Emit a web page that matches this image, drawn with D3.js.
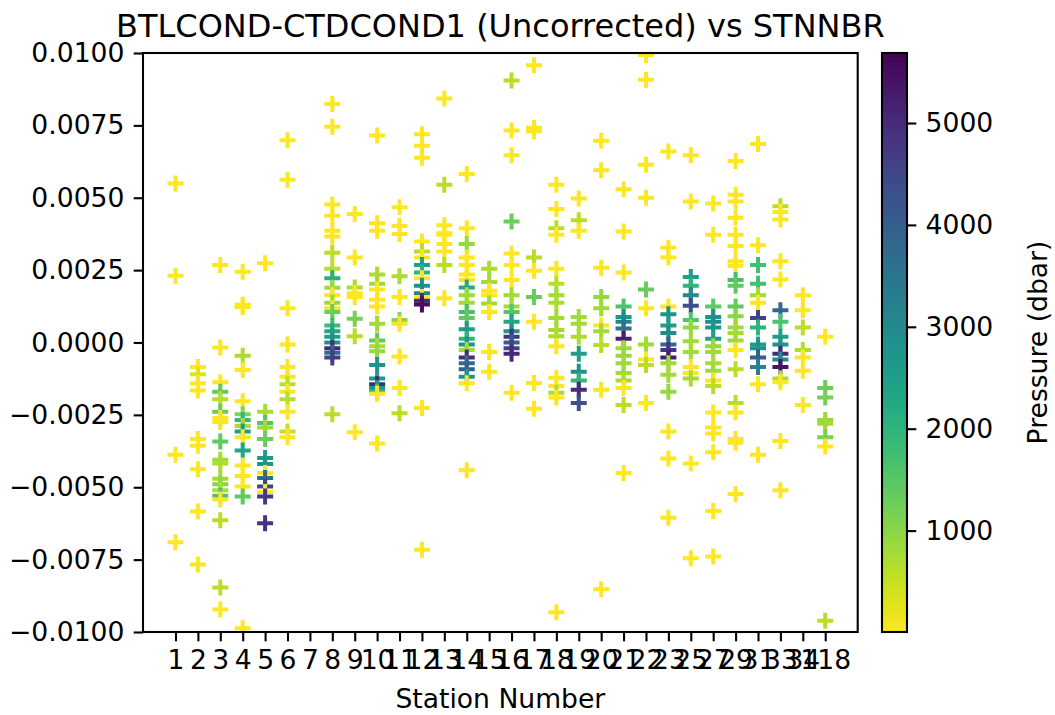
<!DOCTYPE html>
<html>
<head>
<meta charset="utf-8">
<script src="https://cdn.jsdelivr.net/npm/d3@7"></script>
<style>
  body { margin: 0; background: #fff; }
  text { font-family: "DejaVu Sans", sans-serif; fill: #000; }
</style>
</head>
<body>
<svg width="1055" height="715"></svg>
<script>
// station categories, in the order they show up on the axis
var stations = ["1","2","3","4","5","6","7","8","9","10","11","12","13","14","15","16","17","18","19","20","21","22","23","25","27","29","31","33","34","118"];

// BTLCOND - CTDCOND1, units of 1e-3, one list per station
var condDiff = [
  [5.49, 2.31, -3.88, -6.9],
  [-0.85, -1.1, -1.41, -1.66, -3.33, -3.57, -4.38, -5.84, -7.67],
  [2.68, -0.17, -1.37, -1.70, -1.96, -2.39, -2.61, -2.75, -3.42, -4.05, -4.18, -4.71, -4.90, -5.10, -5.29, -5.42, -6.14, -8.46, -9.22],
  [2.44, 1.23, 1.30, -0.46, -0.95, -2.03, -2.48, -2.68, -2.88, -3.07, -3.27, -3.73, -4.25, -4.61, -4.97, -5.32, -9.87],
  [2.74, -2.39, -2.78, -2.94, -3.33, -3.99, -4.20, -4.51, -4.68, -4.97, -5.16, -5.32, -6.24],
  [6.99, 5.62, 1.18, -0.07, -0.85, -1.18, -1.44, -1.70, -1.96, -2.39, -3.07, -3.27],
  [],
  [8.24, 7.45, 4.77, 4.38, 3.86, 3.66, 3.10, 2.55, 2.22, 1.89, 1.63, 1.37, 1.18, 1.05, 0.59, 0.39, 0.20, 0.0, -0.20, -0.35, -0.52, -2.48],
  [4.44, 2.94, 1.90, 1.70, 1.57, 0.82, 0.22, -3.10],
  [7.15, 4.12, 3.86, 2.35, 2.03, 1.83, 1.48, 1.24, 0.65, 0.07, -0.13, -0.30, -0.78, -1.24, -1.44, -1.57, -1.70, -1.77, -3.49],
  [4.67, 4.02, 3.75, 2.29, 1.57, 0.78, 0.65, -0.48, -1.57, -2.44],
  [7.19, 6.80, 6.38, 3.49, 3.14, 2.94, 2.68, 2.42, 2.22, 1.96, 1.70, 1.57, 1.44, 1.31, -2.26, -7.16],
  [8.43, 5.45, 4.05, 3.77, 3.72, 3.40, 3.14, 2.68, 1.53],
  [5.82, 3.95, 3.40, 2.94, 2.68, 2.35, 2.16, 1.90, 1.63, 1.37, 1.05, 0.85, 0.46, 0.13, -0.07, -0.26, -0.52, -0.72, -0.92, -1.18, -1.41, -4.41],
  [2.55, 2.09, 1.79, 1.63, 1.35, 1.05, -0.33, -1.01],
  [9.05, 7.32, 6.47, 4.18, 3.07, 2.68, 2.16, 1.63, 1.24, 1.05, 0.72, 0.39, 0.20, 0.0, -0.20, -0.39, -1.74],
  [9.58, 7.30, 7.42, 2.94, 2.48, 1.57, 0.72, -1.40, -2.29],
  [5.45, 4.61, 3.95, 3.72, 2.55, 2.03, 1.63, 1.37, 0.85, 0.43, 0.22, -0.13, -1.22, -1.50, -1.74, -1.90, -9.32],
  [4.97, 4.22, 3.86, 0.88, 0.65, 0.20, -0.39, -1.01, -1.31, -1.63, -2.09],
  [6.97, 5.95, 2.58, 1.57, 1.18, 0.59, 0.39, -0.09, -1.63, -8.52],
  [5.29, 3.83, 2.42, 1.24, 0.88, 0.72, 0.48, 0.13, -0.20, -0.46, -0.72, -1.05, -1.31, -1.57, -2.16, -4.51],
  [9.93, 9.08, 6.14, 5.00, 1.83, 1.18, -0.07, -0.59, -0.78, -2.09],
  [6.60, 3.27, 2.94, 1.24, 0.98, 0.59, 0.33, -0.07, -0.26, -0.52, -0.72, -1.11, -1.70, -3.07, -4.01, -6.05],
  [6.47, 4.87, 2.26, 1.96, 1.63, 1.27, 0.78, 0.52, 0.04, -0.33, -0.85, -1.05, -1.24, -4.18, -7.45],
  [4.80, 3.72, 1.24, 0.88, 0.72, 0.52, 0.13, -0.13, -0.33, -0.72, -0.98, -1.31, -1.50, -2.42, -2.94, -3.14, -3.79, -5.82, -7.39],
  [6.27, 5.10, 4.87, 4.31, 3.72, 3.33, 2.81, 2.65, 2.16, 1.96, 1.24, 0.91, 0.52, 0.33, 0.07, -0.26, -0.92, -2.09, -2.42, -3.33, -3.46, -5.23],
  [6.86, 3.36, 2.68, 2.03, 1.63, 1.37, 0.85, 0.52, -0.07, -0.20, -0.52, -0.85, -1.44, -3.88],
  [4.71, 4.51, 4.25, 2.81, 2.18, 1.11, 0.72, 0.20, -0.07, -0.39, -0.59, -0.85, -1.24, -1.37, -3.40, -5.10],
  [1.63, 1.11, 0.52, -0.26, -0.52, -0.98, -2.16],
  [0.20, -1.57, -1.90, -2.68, -2.81, -3.27, -3.59, -9.61]
];

// CTD pressure (dbar) for the same bottles
var pressure = [
  [10, 10, 10, 10],
  [10, 300, 10, 10, 10, 10, 10, 10, 10],
  [10, 10, 10, 1400, 600, 1300, 10, 50, 1400, 800, 700, 800, 1000, 700, 1600, 10, 600, 600, 10],
  [10, 10, 10, 700, 10, 10, 1100, 1900, 700, 2500, 10, 2300, 10, 10, 10, 1400, 10],
  [10, 700, 1600, 800, 1300, 2600, 2700, 10, 3700, 4500, 10, 4700, 4800],
  [10, 10, 10, 10, 10, 10, 600, 10, 600, 10, 500, 10],
  [],
  [10, 10, 10, 10, 10, 10, 600, 600, 2100, 800, 10, 900, 10, 1300, 1800, 2300, 2500, 2800, 5000, 3800, 4600, 600],
  [10, 10, 700, 10, 10, 1200, 600, 10],
  [10, 10, 10, 700, 800, 10, 10, 10, 800, 1400, 700, 900, 2800, 2600, 5000, 2700, 1800, 10, 10],
  [10, 10, 10, 700, 10, 1000, 10, 10, 10, 600],
  [10, 10, 10, 10, 600, 10, 2500, 2000, 10, 2800, 3100, 10, 5000, 5500, 10, 10],
  [10, 600, 10, 10, 10, 10, 10, 600, 10],
  [10, 10, 900, 10, 10, 10, 10, 2300, 800, 800, 1700, 1400, 2600, 2000, 2700, 800, 5000, 3700, 4000, 2700, 10, 10],
  [700, 800, 10, 10, 800, 10, 10, 10],
  [600, 10, 10, 1300, 10, 10, 10, 800, 800, 1500, 2300, 2800, 4800, 4000, 4600, 5000, 10],
  [10, 10, 10, 600, 10, 1300, 10, 10, 10],
  [10, 10, 600, 10, 10, 600, 800, 700, 800, 800, 700, 10, 10, 10, 700, 10, 10],
  [10, 600, 10, 800, 800, 700, 2500, 2800, 2000, 5000, 4300],
  [10, 10, 10, 900, 800, 10, 800, 600, 10, 10],
  [10, 10, 10, 1600, 2700, 3100, 3600, 5200, 800, 900, 800, 800, 700, 10, 600, 10],
  [10, 10, 10, 10, 1300, 10, 800, 10, 600, 10],
  [10, 10, 10, 10, 2800, 2500, 3000, 3800, 4800, 5200, 800, 800, 900, 10, 10, 10],
  [10, 10, 2600, 2000, 3000, 4300, 1600, 900, 800, 800, 10, 10, 800, 10, 10],
  [10, 10, 1400, 2800, 3000, 2700, 2500, 900, 800, 700, 800, 10, 600, 10, 10, 10, 10, 10, 10],
  [10, 10, 10, 10, 10, 10, 10, 10, 1700, 1400, 1400, 1000, 800, 800, 800, 10, 600, 600, 10, 10, 10, 10],
  [10, 10, 1700, 1700, 800, 10, 4600, 2000, 2500, 2800, 4000, 3200, 10, 10],
  [600, 10, 10, 10, 10, 3800, 1600, 2500, 2700, 5000, 3000, 5400, 700, 10, 10, 10],
  [10, 10, 600, 700, 10, 10, 10],
  [10, 1300, 1200, 900, 800, 1200, 10, 600]
];

var yTicks = [-0.01, -0.0075, -0.005, -0.0025, 0, 0.0025, 0.005, 0.0075, 0.01];
var cbarTicks = [1000, 2000, 3000, 4000, 5000];
var presMin = 5, presMax = 5687;

// flatten into points
var points = [];
stations.forEach(function (s, i) {
    condDiff[i].forEach(function (v, j) {
        points.push({ stn: s, diff: v / 1000, pres: pressure[i][j] });
    });
});

var svg = d3.select("svg");
var plotL = 143, plotR = 857.7, plotT = 53, plotB = 632;
var fs = 26.6;

var x = d3.scalePoint().domain(stations).range([plotL, plotR]).padding(1.45);
var y = d3.scaleLinear().domain([-0.01, 0.01]).range([plotB, plotT]);
var color = d3.scaleSequential(function (t) { return d3.interpolateViridis(1 - t); })
    .domain([presMin, presMax]);

var defs = svg.append("defs");
defs.append("clipPath").attr("id", "plotclip")
    .append("rect").attr("x", plotL).attr("y", plotT)
    .attr("width", plotR - plotL).attr("height", plotB - plotT);

// scatter of plus markers
svg.append("g").attr("clip-path", "url(#plotclip)")
    .selectAll("path")
    .data(points)
    .enter().append("path")
    .attr("d", "M-8,0H8M0,-8V8")
    .attr("transform", function (d) { return "translate(" + x(d.stn) + "," + y(d.diff) + ")"; })
    .attr("stroke", function (d) { return color(d.pres); })
    .attr("stroke-width", 4)
    .attr("fill", "none");

// axes
var fmtY = function (d) { return d3.format(".4f")(d).replace("-", "\u2212"); };
var xAxis = svg.append("g").attr("transform", "translate(0," + plotB + ")")
    .call(d3.axisBottom(x).tickSize(9.3).tickPadding(9.3));
var yAxis = svg.append("g").attr("transform", "translate(" + plotL + ",0)")
    .call(d3.axisLeft(y).tickValues(yTicks).tickFormat(fmtY).tickSize(9.3).tickPadding(9.3));
[xAxis, yAxis].forEach(function (a) {
    a.select(".domain").remove();
    a.selectAll("line").attr("stroke", "#000").attr("stroke-width", 2.1);
    a.selectAll("text").style("font-size", fs + "px").attr("fill", "#000");
});

svg.append("rect").attr("x", plotL).attr("y", plotT)
    .attr("width", plotR - plotL).attr("height", plotB - plotT)
    .attr("fill", "none").attr("stroke", "#000").attr("stroke-width", 2.1);

svg.append("text").attr("x", (plotL + plotR) / 2).attr("y", 37)
    .attr("text-anchor", "middle").style("font-size", "32px")
    .text("BTLCOND-CTDCOND1 (Uncorrected) vs STNNBR");

svg.append("text").attr("x", (plotL + plotR) / 2).attr("y", 708)
    .attr("text-anchor", "middle").style("font-size", fs + "px")
    .text("Station Number");

// colorbar
var cbL = 882, cbW = 25;
var cy = d3.scaleLinear().domain([presMin, presMax]).range([plotB, plotT]);
var grad = defs.append("linearGradient").attr("id", "cbgrad")
    .attr("x1", 0).attr("y1", 1).attr("x2", 0).attr("y2", 0);
d3.range(0, 1.0001, 0.05).forEach(function (t) {
    grad.append("stop").attr("offset", t).attr("stop-color", d3.interpolateViridis(1 - t));
});
svg.append("rect").attr("x", cbL).attr("y", plotT).attr("width", cbW).attr("height", plotB - plotT)
    .attr("fill", "url(#cbgrad)").attr("stroke", "#000").attr("stroke-width", 2.1);
var cAxis = svg.append("g").attr("transform", "translate(" + (cbL + cbW) + ",0)")
    .call(d3.axisRight(cy).tickValues(cbarTicks).tickFormat(d3.format("d")).tickSize(9.3).tickPadding(9.3));
cAxis.select(".domain").remove();
cAxis.selectAll("line").attr("stroke", "#000").attr("stroke-width", 2.1);
cAxis.selectAll("text").style("font-size", fs + "px").attr("fill", "#000");

svg.append("text")
    .attr("transform", "translate(1047," + ((plotT + plotB) / 2) + ") rotate(-90)")
    .attr("text-anchor", "middle").style("font-size", fs + "px")
    .text("Pressure (dbar)");
</script>
</body>
</html>
